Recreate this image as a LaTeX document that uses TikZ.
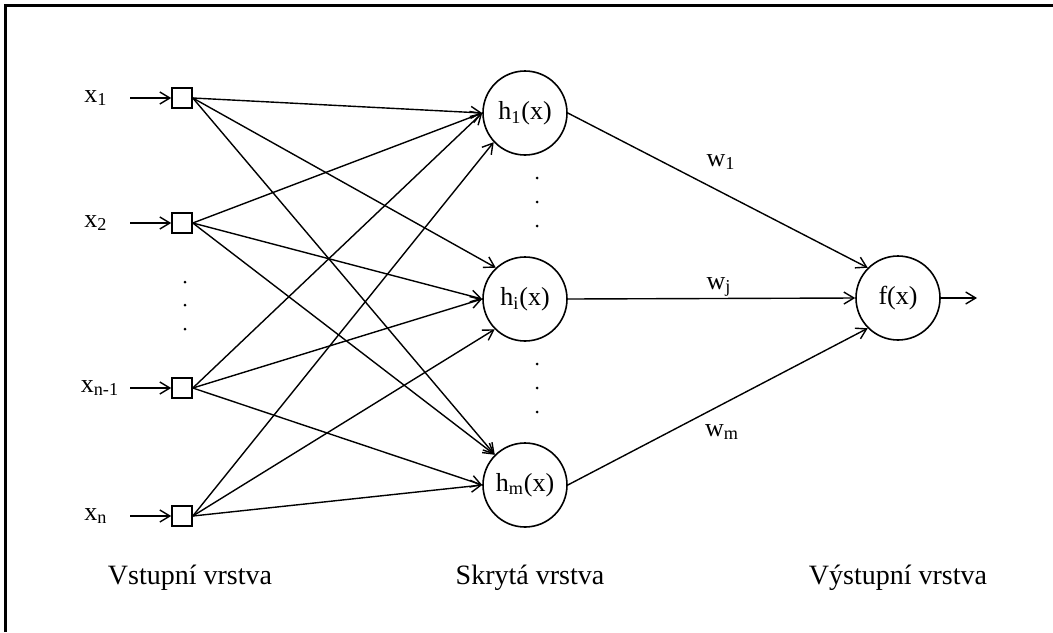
\documentclass[tikz,border=0pt]{standalone}
\usepackage{fontspec}
\setmainfont{Liberation Serif}
\usetikzlibrary{arrows.meta}
\begin{document}
\begin{tikzpicture}[x=0.5pt,y=-0.5pt,
  inbox/.style={draw,line width=0.8pt,minimum size=10pt,inner sep=0pt},
  neuron/.style={draw,circle,line width=0.8pt,minimum size=42pt,inner sep=0pt,font=\fontsize{13}{15}\selectfont},
  lab/.style={font=\fontsize{13}{15}\selectfont,inner sep=0pt},
  layer/.style={font=\fontsize{14}{16}\selectfont,inner sep=0pt},
  conn/.style={line width=0.7pt,-{Straight Barb[length=5pt,width=6pt]}},
  dotmark/.style={circle,fill,inner sep=0pt,minimum size=1.5pt}]
\useasboundingbox (0,0) rectangle (1053,632);
% frame
\draw[line width=1.5pt] (5,632) -- (5,5) -- (1053,5);

% input layer
\node[inbox] (i1) at (182,98) {};
\node[inbox] (i2) at (182,223) {};
\node[inbox] (i3) at (182,388) {};
\node[inbox] (i4) at (182,516) {};
\node[lab] (l1) at (96,98) {x\textsubscript{1}};
\node[lab] (l2) at (96,223) {x\textsubscript{2}};
\node[lab] (l3) at (100,388) {x\textsubscript{n-1}};
\node[lab] (l4) at (96,516) {x\textsubscript{n}};
\coordinate (s1) at (130,98);
\coordinate (s2) at (130,223);
\coordinate (s3) at (130,388);
\coordinate (s4) at (130,516);
\foreach \k in {1,...,4} \draw[conn] (s\k) -- (i\k);
\node[dotmark] (d1) at (185,282) {};
\node[dotmark] (d2) at (185,305) {};
\node[dotmark] (d3) at (185,329) {};

% hidden layer
\node[neuron] (h1) at (525,113) {h\textsubscript{1}(x)};
\node[neuron] (hi) at (525,299) {h\textsubscript{i}(x)};
\node[neuron] (hm) at (525,485) {h\textsubscript{m}(x)};
\node[dotmark] (e1) at (537,178) {};
\node[dotmark] (e2) at (537,202) {};
\node[dotmark] (e3) at (537,226) {};
\node[dotmark] (e4) at (537,364) {};
\node[dotmark] (e5) at (537,388) {};
\node[dotmark] (e6) at (537,412) {};

% input to hidden connections
\draw[conn] (i1.east) -- (h1.west);
\draw[conn] (i2.east) -- (h1.west);
\draw[conn] (i3.east) -- (h1.west);
\draw[conn] (i4.east) -- (h1.223);
\draw[conn] (i1.east) -- (hi.133);
\draw[conn] (i2.east) -- (hi.west);
\draw[conn] (i3.east) -- (hi.west);
\draw[conn] (i4.east) -- (hi.225);
\draw[conn] (i1.east) -- (hm.135);
\draw[conn] (i2.east) -- (hm.135);
\draw[conn] (i3.east) -- (hm.west);
\draw[conn] (i4.east) -- (hm.west);

% output layer
\node[neuron] (f) at (898,298) {f(x)};
\coordinate (out) at (977,298);
\draw[conn] (h1.east) -- (f.135);
\draw[conn] (hi.east) -- (f.west);
\draw[conn] (hm.east) -- (f.225);
\draw[conn] (f.east) -- (out);
\node[lab] (w1) at (721,162) {w\textsubscript{1}};
\node[lab] (wj) at (719,287) {w\textsubscript{j}};
\node[lab] (wm) at (722,432) {w\textsubscript{m}};

% layer captions
\node[layer] (c1) at (190,578) {Vstupní vrstva};
\node[layer] (c2) at (530,578) {Skrytá vrstva};
\node[layer] (c3) at (898,578) {Výstupní vrstva};
\end{tikzpicture}
\end{document}
